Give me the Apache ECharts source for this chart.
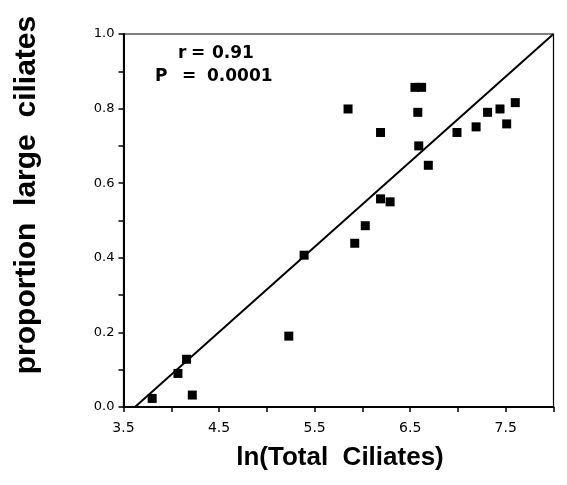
<!DOCTYPE html>
<html><head><meta charset="utf-8">
<script src="https://cdn.jsdelivr.net/npm/echarts@6/dist/echarts.min.js"></script>
<style>html,body{margin:0;padding:0;background:#fff}#c{width:567px;height:485px}</style>
</head><body><div id="c"></div>
<script>
const lnTotal = [3.80, 4.07, 4.16, 4.22, 5.23, 5.39, 5.92, 6.03, 5.85, 6.19, 6.19, 6.29, 6.55, 6.62, 6.58, 6.59, 6.69, 6.99, 7.19, 7.31, 7.44, 7.51, 7.60];
const propLarge = [0.023, 0.09, 0.128, 0.032, 0.19, 0.407, 0.439, 0.486, 0.799, 0.736, 0.558, 0.55, 0.857, 0.857, 0.79, 0.70, 0.648, 0.736, 0.751, 0.79, 0.799, 0.759, 0.816];
const fitX = [3.62, 8.0];
const fitY = [0.0, 1.0];
const xTitle = 'ln(Total  Ciliates)';
const yTitle = 'proportion  large  ciliates';
const statR = ['r', '=', '0.91'];
const statP = ['P', '=', '0.0001'];

const chart = echarts.init(document.getElementById('c'));
const font = '"Liberation Sans", Arial, Helvetica, sans-serif';
const tickFont = '"DejaVu Sans", sans-serif';
const statFont = 'bold 17px "DejaVu Sans", sans-serif';
chart.setOption({
  animation: false,
  grid: {left: 123.5, right: 13.5, top: 34, bottom: 78, show: true, borderColor: '#000', borderWidth: 1.2, backgroundColor: 'transparent'},
  xAxis: {
    type: 'value', min: 3.5, max: 8.0, interval: 0.5,
    axisLine: {show: true, onZero: false, lineStyle: {color: '#000', width: 2}},
    axisTick: {show: true, inside: false, length: 5, lineStyle: {color: '#000', width: 1.5}},
    splitLine: {show: false},
    axisLabel: {color: '#000', fontFamily: tickFont, fontSize: 14, margin: 14,
      formatter: v => (Math.abs(((v - 3.5) % 1)) < 1e-6 ? v.toFixed(1) : '')}
  },
  yAxis: {
    type: 'value', min: 0, max: 1.0, interval: 0.1,
    axisLine: {show: true, onZero: false, lineStyle: {color: '#000', width: 2}},
    axisTick: {show: true, inside: false, length: 5, lineStyle: {color: '#000', width: 1.5}},
    splitLine: {show: false},
    axisLabel: {color: '#000', fontFamily: tickFont, fontSize: 13, margin: 9,
      formatter: v => (Math.round(v * 10) % 2 === 0 ? v.toFixed(1) : '')}
  },
  series: [
    {type: 'line', data: fitX.map((x, i) => [x, fitY[i]]), showSymbol: false, symbol: 'none',
     lineStyle: {color: '#000', width: 2}, silent: true, z: 1},
    {type: 'scatter', data: lnTotal.map((x, i) => [x, propLarge[i]]), symbol: 'rect', symbolSize: 9,
     itemStyle: {color: '#000', opacity: 1}, z: 2}
  ],
  graphic: [
    {type: 'text', x: 178, y: 54, style: {text: statR[0], font: statFont, fill: '#000', verticalAlign: 'middle'}},
    {type: 'text', x: 191, y: 54, style: {text: statR[1], font: statFont, fill: '#000', verticalAlign: 'middle'}},
    {type: 'text', x: 212, y: 54, style: {text: statR[2], font: statFont, fill: '#000', verticalAlign: 'middle'}},
    {type: 'text', x: 155, y: 77, style: {text: statP[0], font: statFont, fill: '#000', verticalAlign: 'middle'}},
    {type: 'text', x: 182, y: 77, style: {text: statP[1], font: statFont, fill: '#000', verticalAlign: 'middle'}},
    {type: 'text', x: 207, y: 77, style: {text: statP[2], font: statFont, fill: '#000', verticalAlign: 'middle'}},
    {type: 'text', x: 340, y: 458, style: {text: xTitle, font: 'bold 26px ' + font, fill: '#000', align: 'center', verticalAlign: 'middle'}},
    {type: 'text', x: 27, y: 195, rotation: Math.PI / 2, style: {text: yTitle, font: 'bold 30px ' + font, fill: '#000', align: 'center', verticalAlign: 'middle'}}
  ]
});
</script></body></html>
